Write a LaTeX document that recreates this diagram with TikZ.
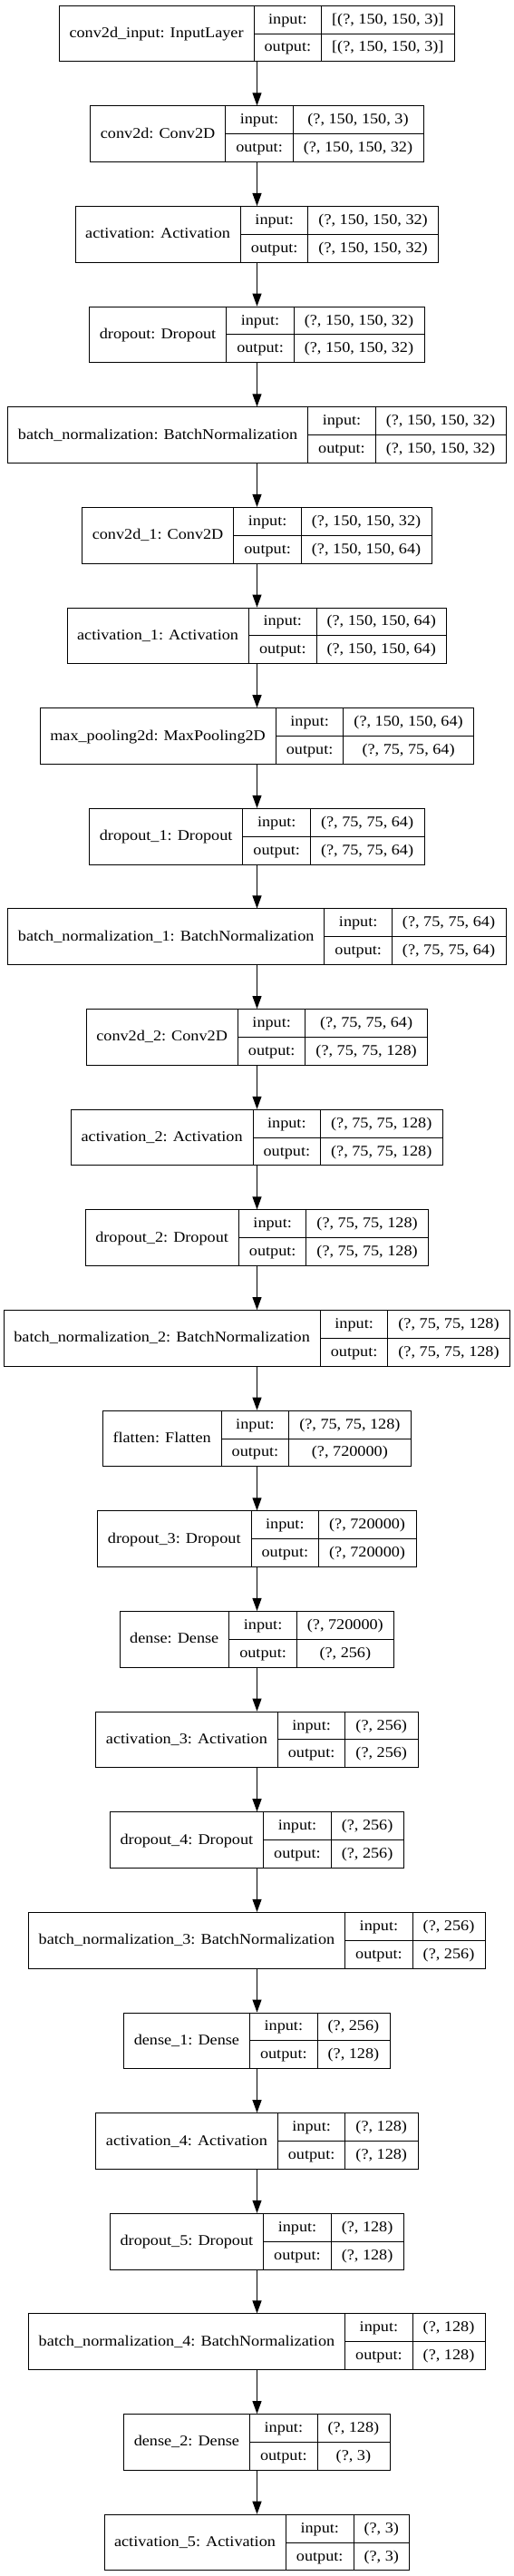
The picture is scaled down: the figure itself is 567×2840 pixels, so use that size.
\documentclass[tikz,border=0pt]{standalone}
\usepackage{fontspec}
\setmainfont{Liberation Serif}
\usetikzlibrary{arrows.meta}
\newlength\fwa \newlength\fwb \newlength\fwc \newlength\fwt \newlength\fwm
\newcommand\lf{\fontsize{18.2}{20}\selectfont}
\newcommand\sq[1]{\scalebox{1}[0.9]{\lf #1}}
\newcommand\measure[2]{\pgfinterruptpicture\settowidth\fwm{\lf #2}\global#1=\fwm\endpgfinterruptpicture}
\tikzset{
  layerbox/.style={draw, line width=1pt, minimum height=61.7pt, inner sep=0pt},
  lbl/.style={inner sep=0pt, text height=10pt, text depth=1pt, anchor=center},
  divider/.style={line width=1pt},
  flow/.style={line width=1pt, -{Triangle[length=14pt,width=10pt]}}
}
\newcommand\layer[5]{%
  \measure\fwa{#2}\addtolength\fwa{23pt}%
  \measure\fwb{output:}\addtolength\fwb{23pt}%
  \measure\fwc{#3}\measure\fwt{#4}%
  \ifdim\fwt>\fwc \fwc=\fwt\fi \addtolength\fwc{23pt}%
  \pgfmathsetmacro\boxw{\fwa+\fwb+\fwc}%
  \pgfmathsetmacro\boxy{-(5.7+#5*110.64)}%
  \node[layerbox, minimum width=\boxw pt, anchor=north] (#1) at (283.5pt,\boxy pt) {};
  \draw[divider] ([xshift=\fwa]#1.north west) -- ([xshift=\fwa]#1.south west);
  \draw[divider] ([xshift=\fwa+\fwb]#1.north west) -- ([xshift=\fwa+\fwb]#1.south west);
  \draw[divider] ([xshift=\fwa]#1.west) -- (#1.east);
  \node[lbl] (#1-name) at ([xshift=0.5\fwa]#1.west) {\sq{#2}};
  \node[lbl] (#1-ik) at ([xshift=\fwa+0.5\fwb, yshift=15.425pt]#1.west) {\sq{input:}};
  \node[lbl] (#1-ok) at ([xshift=\fwa+0.5\fwb, yshift=-15.425pt]#1.west) {\sq{output:}};
  \node[lbl] (#1-iv) at ([xshift=\fwa+\fwb+0.5\fwc, yshift=15.425pt]#1.west) {\sq{#3}};
  \node[lbl] (#1-ov) at ([xshift=\fwa+\fwb+0.5\fwc, yshift=-15.425pt]#1.west) {\sq{#4}};
}
\begin{document}
\begin{tikzpicture}
\fill[white] (0,0) rectangle (567pt,-2840pt);
\useasboundingbox (0,0) rectangle (567pt,-2840pt);
\layer{l0}{conv2d\_input: InputLayer}{[(?, 150, 150, 3)]}{[(?, 150, 150, 3)]}{0}
\layer{l1}{conv2d: Conv2D}{(?, 150, 150, 3)}{(?, 150, 150, 32)}{1}
\layer{l2}{activation: Activation}{(?, 150, 150, 32)}{(?, 150, 150, 32)}{2}
\layer{l3}{dropout: Dropout}{(?, 150, 150, 32)}{(?, 150, 150, 32)}{3}
\layer{l4}{batch\_normalization: BatchNormalization}{(?, 150, 150, 32)}{(?, 150, 150, 32)}{4}
\layer{l5}{conv2d\_1: Conv2D}{(?, 150, 150, 32)}{(?, 150, 150, 64)}{5}
\layer{l6}{activation\_1: Activation}{(?, 150, 150, 64)}{(?, 150, 150, 64)}{6}
\layer{l7}{max\_pooling2d: MaxPooling2D}{(?, 150, 150, 64)}{(?, 75, 75, 64)}{7}
\layer{l8}{dropout\_1: Dropout}{(?, 75, 75, 64)}{(?, 75, 75, 64)}{8}
\layer{l9}{batch\_normalization\_1: BatchNormalization}{(?, 75, 75, 64)}{(?, 75, 75, 64)}{9}
\layer{l10}{conv2d\_2: Conv2D}{(?, 75, 75, 64)}{(?, 75, 75, 128)}{10}
\layer{l11}{activation\_2: Activation}{(?, 75, 75, 128)}{(?, 75, 75, 128)}{11}
\layer{l12}{dropout\_2: Dropout}{(?, 75, 75, 128)}{(?, 75, 75, 128)}{12}
\layer{l13}{batch\_normalization\_2: BatchNormalization}{(?, 75, 75, 128)}{(?, 75, 75, 128)}{13}
\layer{l14}{flatten: Flatten}{(?, 75, 75, 128)}{(?, 720000)}{14}
\layer{l15}{dropout\_3: Dropout}{(?, 720000)}{(?, 720000)}{15}
\layer{l16}{dense: Dense}{(?, 720000)}{(?, 256)}{16}
\layer{l17}{activation\_3: Activation}{(?, 256)}{(?, 256)}{17}
\layer{l18}{dropout\_4: Dropout}{(?, 256)}{(?, 256)}{18}
\layer{l19}{batch\_normalization\_3: BatchNormalization}{(?, 256)}{(?, 256)}{19}
\layer{l20}{dense\_1: Dense}{(?, 256)}{(?, 128)}{20}
\layer{l21}{activation\_4: Activation}{(?, 128)}{(?, 128)}{21}
\layer{l22}{dropout\_5: Dropout}{(?, 128)}{(?, 128)}{22}
\layer{l23}{batch\_normalization\_4: BatchNormalization}{(?, 128)}{(?, 128)}{23}
\layer{l24}{dense\_2: Dense}{(?, 128)}{(?, 3)}{24}
\layer{l25}{activation\_5: Activation}{(?, 3)}{(?, 3)}{25}
\foreach \a [evaluate=\a as \b using int(\a+1)] in {0,...,24}
  \draw[flow] (l\a.south) -- (l\b.north);
\end{tikzpicture}
\end{document}
